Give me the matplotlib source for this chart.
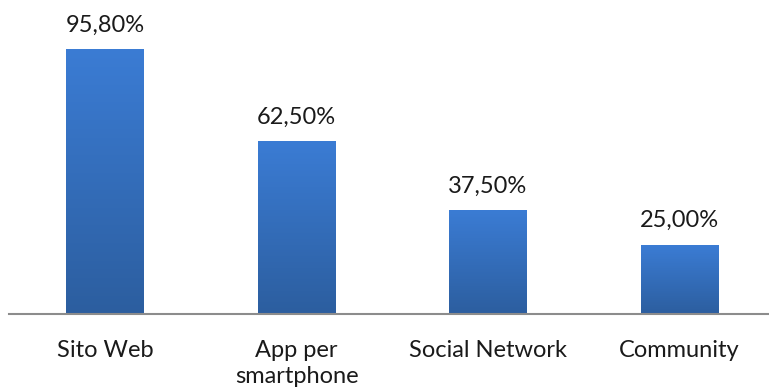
import matplotlib.pyplot as plt
import matplotlib.colors as mcolors
import numpy as np

categories = ["Sito Web", "App per\nsmartphone", "Social Network", "Community"]
values = [95.80, 62.50, 37.50, 25.00]

plt.rcParams['font.family'] = ['Lato', 'DejaVu Sans']

fig = plt.figure(figsize=(7.69, 3.91), dpi=100)
ax = fig.add_axes([9 / 769, 77 / 391, 1 - 9 / 769, 1 - 77 / 391])

x = np.arange(len(values))
bars = ax.bar(x, values, width=0.407, color='none', zorder=2)

# vertical gradient fill for each bar
grad_cmap = mcolors.LinearSegmentedColormap.from_list("bluegrad", ["#2c5e9f", "#3b7cd4"])
grad = np.linspace(0, 1, 256).reshape(-1, 1)
for b in bars:
    x0, y0 = b.get_x(), b.get_y()
    w, h = b.get_width(), b.get_height()
    ax.imshow(grad, cmap=grad_cmap, origin='lower', aspect='auto',
              extent=(x0, x0 + w, y0, y0 + h), zorder=2)

for xi, v in zip(x, values):
    ax.annotate(f"{v:.2f}%".replace(".", ","), (xi, v), xytext=(0, 13),
                textcoords='offset points', ha='center', va='baseline',
                fontsize=17, color='#1a1a1a')

ax.set_xlim(-0.5013, 3.467)
ax.set_ylim(0, 113.9)

for s in ['top', 'right', 'left']:
    ax.spines[s].set_visible(False)
ax.spines['bottom'].set_color('#8c8c8c')
ax.spines['bottom'].set_linewidth(1.5)
ax.set_yticks([])
ax.set_xticks(x)
ax.set_xticklabels(categories, fontsize=17, color='#1a1a1a', linespacing=1.25)
ax.tick_params(axis='x', length=0, pad=19)

fig.savefig("out.png", dpi=100)
